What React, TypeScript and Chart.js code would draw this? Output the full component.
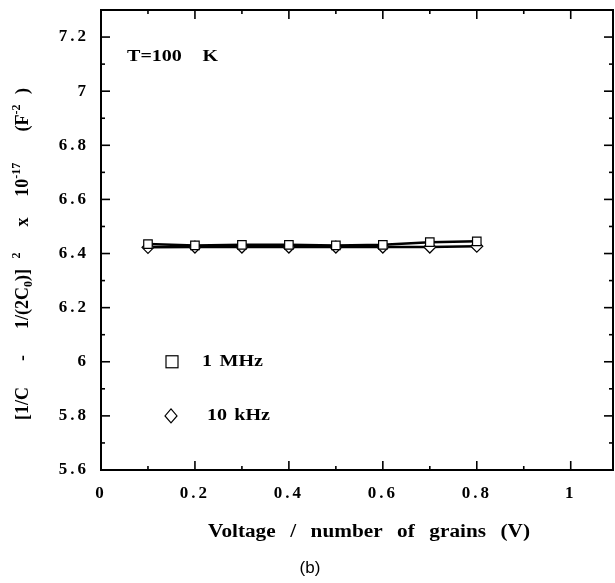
import React, { useEffect, useRef } from "react";
import { Chart, registerables } from "chart.js";

Chart.register(...registerables);

const voltage = [0.1, 0.2, 0.3, 0.4, 0.5, 0.6, 0.7, 0.8];
const mhz1 = [6.435, 6.43, 6.432, 6.432, 6.43, 6.432, 6.442, 6.445];
const khz10 = [6.423, 6.424, 6.424, 6.424, 6.424, 6.424, 6.424, 6.427];
const xTicks = [0, 0.2, 0.4, 0.6, 0.8, 1];
const xMinor = [0.1, 0.3, 0.5, 0.7, 0.9];
const yTicks = [5.6, 5.8, 6, 6.2, 6.4, 6.6, 6.8, 7, 7.2];
const yMinor = [5.7, 5.9, 6.1, 6.3, 6.5, 6.7, 6.9, 7.1];
const seriesNames = ["1 MHz", "10 kHz"];
const tempLabel = "T=100 K";
const xTitle = "Voltage / number of grains (V)";

const SERIF = '"Liberation Serif", "DejaVu Serif", serif';
const HS = 1.18; // horizontal stretch of the printed lettering

type Tok = [string, "n" | "sup" | "sub", number];

// draws tokens starting at x, spreading the gaps so the total width equals target
function drawSpread(
  ctx: CanvasRenderingContext2D,
  toks: Tok[],
  x: number,
  y: number,
  target: number,
  size: number,
  hs: number
) {
  const big = `bold ${size}px ${SERIF}`;
  const small = `bold ${Math.round(size * 0.65)}px ${SERIF}`;
  let w = 0;
  let gaps = 0;
  for (const [t, k, g] of toks) {
    ctx.font = k === "n" ? big : small;
    w += ctx.measureText(t).width * hs;
    gaps += g;
  }
  const unit = gaps > 0 ? Math.max(0, (target - w) / gaps) : 0;
  let cx = x;
  for (const [t, k, g] of toks) {
    cx += g * unit;
    ctx.font = k === "n" ? big : small;
    const dy = k === "sup" ? -size * 0.42 : k === "sub" ? size * 0.22 : 0;
    ctx.save();
    ctx.translate(cx, y + dy);
    ctx.scale(hs, 1);
    ctx.fillText(t, 0, 0);
    ctx.restore();
    cx += ctx.measureText(t).width * hs;
  }
}

function words(s: string): Tok[] {
  return s.split(" ").map((t, i) => [t, "n", i === 0 ? 0 : 1] as Tok);
}

const spacing = {
  id: "spacing",
  beforeDraw(chart: any) {
    (chart.ctx as any).letterSpacing = "3px";
  },
  afterDatasetsDraw(chart: any) {
    (chart.ctx as any).letterSpacing = "0px";
  },
};

const decor = {
  id: "decor",
  afterDraw(chart: any) {
    const ctx = chart.ctx as CanvasRenderingContext2D;
    (ctx as any).letterSpacing = "0px";
    const { left, right, top, bottom } = chart.chartArea;
    const xs = chart.scales.x;
    const ys = chart.scales.y;
    ctx.save();
    ctx.strokeStyle = "#000";
    ctx.fillStyle = "#000";
    ctx.lineWidth = 2;
    ctx.strokeRect(left, top, right - left, bottom - top);
    ctx.lineWidth = 1.6;
    const tick = (x1: number, y1: number, x2: number, y2: number) => {
      ctx.beginPath();
      ctx.moveTo(x1, y1);
      ctx.lineTo(x2, y2);
      ctx.stroke();
    };
    for (const v of xTicks) {
      const px = xs.getPixelForValue(v);
      tick(px, bottom, px, bottom - 9);
      tick(px, top, px, top + 9);
    }
    for (const v of xMinor) {
      const px = xs.getPixelForValue(v);
      tick(px, bottom, px, bottom - 4);
      tick(px, top, px, top + 4);
    }
    for (const v of yTicks) {
      const py = ys.getPixelForValue(v);
      tick(left, py, left + 9, py);
      tick(right, py, right - 9, py);
    }
    for (const v of yMinor) {
      const py = ys.getPixelForValue(v);
      tick(left, py, left + 4, py);
      tick(right, py, right - 4, py);
    }

    // legend
    ctx.lineWidth = 1.2;
    ctx.fillStyle = "#fff";
    const sqX = 172, sqY = ys.getPixelForValue(6.0);
    ctx.fillRect(sqX - 6, sqY - 6, 12, 12);
    ctx.strokeRect(sqX - 6, sqY - 6, 12, 12);
    const dX = 171, dY = ys.getPixelForValue(5.8);
    ctx.beginPath();
    ctx.moveTo(dX, dY - 7);
    ctx.lineTo(dX + 6, dY);
    ctx.lineTo(dX, dY + 7);
    ctx.lineTo(dX - 6, dY);
    ctx.closePath();
    ctx.fill();
    ctx.stroke();
    ctx.fillStyle = "#000";
    ctx.textBaseline = "middle";
    ctx.textAlign = "left";
    drawSpread(ctx, words(seriesNames[0]), 202, sqY, 61, 17, HS);
    drawSpread(ctx, words(seriesNames[1]), 207, dY, 63, 17, HS);
    drawSpread(ctx, words(tempLabel), 127, 57, 91, 17, HS);

    // x title
    drawSpread(ctx, words(xTitle), 208, 532, 322, 18, HS);
    ctx.textAlign = "center";
    ctx.font = '17px "Liberation Sans", Arial, sans-serif';
    ctx.fillText("(b)", 310, 568);

    // y title with sub/superscripts, rotated
    const yt: Tok[] = [
      ["[1/C", "n", 0],
      ["-", "n", 1],
      ["1/(2C", "n", 1],
      ["0", "sub", 0],
      [")]", "n", 0],
      ["2", "sup", 0.4],
      ["x", "n", 1],
      ["10", "n", 0.8],
      ["-17", "sup", 0],
      ["(F", "n", 1.2],
      ["-2", "sup", 0],
      [")", "n", 0.4],
    ];
    ctx.translate(22, 254);
    ctx.rotate(-Math.PI / 2);
    ctx.textAlign = "left";
    ctx.textBaseline = "alphabetic";
    drawSpread(ctx, yt, -166, 6, 332, 18, 1);
    ctx.restore();
  },
};

export default function App() {
  const ref = useRef<HTMLCanvasElement | null>(null);
  useEffect(() => {
    document.body.style.margin = "0";
    const canvas = ref.current;
    if (!canvas) return;
    const chart = new Chart(canvas, {
      type: "line",
      data: {
        datasets: [
          {
            label: seriesNames[0],
            data: voltage.map((x, i) => ({ x, y: mhz1[i] })),
            borderColor: "#000",
            borderWidth: 2.5,
            pointStyle: "rect",
            pointRadius: 6,
            pointBorderWidth: 1.2,
            pointBackgroundColor: "#fff",
            pointBorderColor: "#000",
            fill: false,
          },
          {
            label: seriesNames[1],
            data: voltage.map((x, i) => ({ x, y: khz10[i] })),
            borderColor: "#000",
            borderWidth: 2.5,
            pointStyle: "rectRot",
            pointRadius: 6,
            pointBorderWidth: 1.2,
            pointBackgroundColor: "#fff",
            pointBorderColor: "#000",
            fill: false,
          },
        ],
      },
      options: {
        responsive: false,
        animation: false,
        layout: { autoPadding: false, padding: { top: 10, right: 2, left: 0, bottom: 0 } },
        plugins: { legend: { display: false }, tooltip: { enabled: false } },
        scales: {
          x: {
            type: "linear",
            min: 0,
            max: 1.09,
            grid: { display: false, drawTicks: false },
            border: { display: false },
            afterBuildTicks: (s: any) => {
              s.ticks = xTicks.map((v) => ({ value: v }));
            },
            afterFit: (s: any) => {
              s.height = 113;
              s.paddingLeft = 0;
              s.paddingRight = 0;
            },
            ticks: {
              maxRotation: 0,
              autoSkip: false,
              padding: 13,
              color: "#000",
              font: { family: SERIF, size: 17, weight: "bold" },
              callback: (v: any) => String(v),
            },
          },
          y: {
            type: "linear",
            min: 5.6,
            max: 7.3,
            grid: { display: false, drawTicks: false },
            border: { display: false },
            afterBuildTicks: (s: any) => {
              s.ticks = yTicks.map((v) => ({ value: v }));
            },
            afterFit: (s: any) => {
              s.width = 101;
              s.paddingTop = 0;
              s.paddingBottom = 0;
            },
            ticks: {
              autoSkip: false,
              padding: 12,
              color: "#000",
              font: { family: SERIF, size: 17, weight: "bold" },
              callback: (v: any) => String(Math.round(v * 10) / 10),
            },
          },
        },
      },
      plugins: [spacing, decor],
    } as any);
    return () => chart.destroy();
  }, []);
  return <canvas ref={ref} width={615} height={583} style={{ display: "block" }} />;
}
